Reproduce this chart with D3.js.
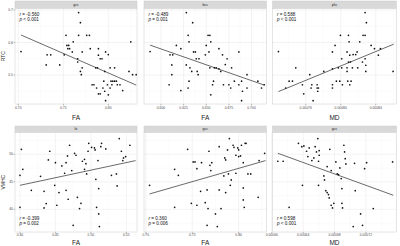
<!DOCTYPE html>
<html>
<head>
<meta charset="utf-8">
<script src="https://cdn.jsdelivr.net/npm/d3@7"></script>
<style>
  body { margin: 0; background: #fff; }
  svg { display: block; font-family: "Liberation Sans", Arial, sans-serif; }
</style>
</head>
<body>
<div id="chart"></div>
<script>
// ---- top row: RTC ----
var rtc_gcc_fa = [0.703,0.767,0.769,0.753,0.767,0.776,0.779,0.825,0.754,0.756,0.761,0.755,0.757,0.780,0.789,0.760,0.771,0.732,0.736,0.751,0.789,0.797,0.766,0.791,0.793,0.800,0.731,0.746,0.771,0.786,0.788,0.802,0.807,0.769,0.770,0.796,0.823,0.827,0.831,0.782,0.784,0.795,0.803,0.805,0.807,0.809,0.799,0.787,0.794,0.804,0.810,0.796,0.802,0.816,0.789,0.791,0.797,0.800,0.813,0.766];
var rtc_gcc_y  = [0.572,0.692,0.661,0.622,0.622,0.622,0.622,0.602,0.591,0.591,0.602,0.581,0.581,0.581,0.581,0.571,0.571,0.562,0.562,0.562,0.561,0.571,0.550,0.550,0.550,0.563,0.531,0.531,0.522,0.522,0.522,0.522,0.522,0.511,0.501,0.511,0.511,0.501,0.501,0.470,0.470,0.481,0.481,0.481,0.481,0.481,0.470,0.460,0.460,0.470,0.470,0.450,0.460,0.452,0.442,0.442,0.421,0.439,0.470,0.540];

var rtc_bcc_fa = [0.588,0.628,0.635,0.630,0.631,0.652,0.654,0.655,0.650,0.617,0.622,0.636,0.638,0.610,0.613,0.639,0.642,0.649,0.664,0.668,0.673,0.686,0.612,0.628,0.632,0.634,0.640,0.654,0.661,0.664,0.666,0.678,0.612,0.641,0.671,0.695,0.631,0.658,0.681,0.689,0.707,0.609,0.630,0.657,0.669,0.675,0.677,0.686,0.695,0.711,0.714,0.622,0.690,0.655,0.689,0.653,0.659];
var rtc_bcc_y  = [0.572,0.692,0.661,0.622,0.602,0.622,0.622,0.602,0.591,0.591,0.581,0.571,0.571,0.562,0.562,0.550,0.550,0.562,0.581,0.562,0.550,0.571,0.531,0.531,0.522,0.511,0.511,0.522,0.522,0.519,0.511,0.522,0.501,0.501,0.532,0.501,0.481,0.481,0.481,0.481,0.481,0.470,0.460,0.470,0.470,0.470,0.460,0.470,0.460,0.460,0.470,0.452,0.450,0.439,0.421,0.571,0.522];

var rtc_plic_md = [72.88,82.78,82.93,79.96,80.88,82.55,82.78,79.35,80.95,82.17,83.47,79.05,80.72,81.87,81.41,81.71,83.85,84.53,84.30,81.03,80.11,81.10,80.88,82.78,82.48,82.86,79.73,79.05,80.72,81.33,81.94,78.06,80.72,82.86,85.98,74.86,76.46,74.10,74.48,79.50,79.89,80.80,81.18,75.62,76.69,77.30,79.05,80.19,81.03,73.71,76.61,77.30,77.45,79.05,77.37,75.77,76.84,80.11].map(function(v){ return v * 1e-5; });
var rtc_plic_y  = [0.572,0.692,0.661,0.622,0.622,0.622,0.622,0.591,0.602,0.602,0.591,0.571,0.571,0.571,0.563,0.563,0.581,0.581,0.561,0.561,0.550,0.540,0.540,0.550,0.540,0.530,0.522,0.519,0.522,0.522,0.522,0.511,0.511,0.511,0.511,0.522,0.501,0.481,0.481,0.481,0.481,0.481,0.481,0.470,0.470,0.470,0.470,0.470,0.470,0.460,0.460,0.460,0.460,0.460,0.450,0.442,0.421,0.522];

// ---- bottom row: VMHC ----
var vmhc_fx_fa = [0.402,0.400,0.404,0.400,0.416,0.429,0.434,0.434,0.437,0.442,0.440,0.450,0.449,0.452,0.455,0.459,0.463,0.465,0.467,0.470,0.465,0.468,0.473,0.475,0.477,0.479,0.481,0.484,0.486,0.488,0.491,0.491,0.493,0.494,0.496,0.497,0.501,0.505,0.506,0.507,0.508,0.510,0.511,0.511,0.512,0.514,0.515,0.521,0.529,0.536,0.537,0.540,0.543,0.545,0.546,0.549,0.555];
var vmhc_fx_y  = [50.91,46.18,47.27,40.36,43.45,46.0,43.27,40.24,41.03,50.55,48.97,48.48,44.36,40.73,43.03,47.88,46.55,48.48,49.70,51.64,43.45,41.82,47.03,37.09,50.18,49.82,42.18,40.12,41.09,48.73,49.09,47.27,48.30,46.42,50.55,52.0,51.27,51.15,50.79,45.45,40.36,48.85,39.15,43.76,36.85,51.39,52.0,50.97,46.18,46.42,44.24,52.85,50.55,48.85,49.33,49.58,51.64];

var vmhc_gcc_fa = [0.704,0.731,0.735,0.731,0.745,0.749,0.751,0.753,0.755,0.755,0.759,0.760,0.764,0.766,0.767,0.766,0.768,0.769,0.770,0.771,0.775,0.777,0.779,0.779,0.781,0.784,0.785,0.786,0.786,0.788,0.789,0.790,0.791,0.792,0.794,0.795,0.797,0.797,0.799,0.800,0.802,0.803,0.805,0.805,0.805,0.806,0.807,0.808,0.810,0.813,0.821,0.822,0.828,0.800];
var vmhc_gcc_y  = [44.36,47.27,46.18,40.36,50.91,41.09,48.61,48.61,47.39,40.73,43.27,48.48,41.21,43.52,40.12,37.09,50.55,48.0,47.03,48.48,39.15,36.85,51.39,43.52,40.12,46.06,49.33,48.97,43.03,50.79,46.42,52.85,44.36,45.33,51.64,51.27,49.82,46.55,51.15,49.58,49.70,51.64,48.48,43.88,41.70,40.36,52.0,52.0,46.42,46.42,42.18,48.85,50.18,50.79];

var vmhc_scc_md = [60.77,61.45,62.21,63.40,63.83,64.09,63.91,64.43,64.77,64.60,65.11,65.36,65.53,65.70,65.87,65.96,66.04,66.04,65.96,66.64,66.72,66.89,67.06,67.06,67.23,67.32,67.40,67.57,67.57,67.74,67.91,68.17,68.34,68.51,68.68,68.85,68.94,69.02,69.19,69.28,69.36,68.94,69.45,70.38,70.55,70.64,71.32,71.57,71.83,72.09,72.94,75.40].map(function(v){ return v * 1e-5; });
var vmhc_scc_y  = [48.73,48.73,40.36,52.0,51.39,51.52,44.36,50.55,51.15,49.58,48.85,49.33,51.39,50.42,52.85,48.73,50.67,49.82,44.36,46.06,45.33,43.39,47.76,43.03,42.67,42.06,50.91,47.03,40.73,40.24,41.09,48.61,46.42,46.30,47.52,45.58,41.09,40.24,51.64,50.42,49.21,43.76,48.24,36.85,48.36,43.39,39.15,37.09,47.39,48.48,40.12,48.61];

// fitted lines [x0, y0, x1, y1]
var fit_rtc_gcc   = [0.703, 0.623, 0.831, 0.469];
var fit_rtc_bcc   = [0.588, 0.592, 0.714, 0.469];
var fit_rtc_plic  = [0.0007288, 0.449, 0.0008606, 0.595];
var fit_vmhc_fx   = [0.400, 44.36, 0.563, 48.85];
var fit_vmhc_gcc  = [0.704, 42.79, 0.829, 48.85];
var fit_vmhc_scc  = [0.0006077, 50.18, 0.0007549, 42.55];

// ticks
var rtc_ticks  = [0.5, 0.6, 0.7];
var vmhc_ticks = [40, 45, 50];
var ticks_rtc_gcc  = [0.70, 0.75, 0.80];
var ticks_rtc_bcc  = [0.600, 0.625, 0.650, 0.675, 0.700];
var ticks_rtc_plic = [0.00076, 0.00080, 0.00084];
var ticks_vmhc_fx  = [0.40, 0.45, 0.50, 0.55];
var ticks_vmhc_gcc = [0.70, 0.75, 0.80];
var ticks_vmhc_scc = [0.00060, 0.00064, 0.00068, 0.00072];

var W = 400, H = 246;
var svg = d3.select("#chart").append("svg").attr("width", W).attr("height", H);

var cols = [[15, 137], [144, 266.5], [272.5, 396.5]];
var rows = [
  {strip: [1, 8.5], y: [8.5, 104], dom: [0.4108, 0.7046], ticks: rtc_ticks, fmt: d3.format(".1f"), title: "RTC",
   statY: "top", xTitleY: 119.5, tickY: 109},
  {strip: [126, 132.5], y: [132.5, 232], dom: [35.87, 53.96], ticks: vmhc_ticks, fmt: d3.format("d"), title: "VMHC",
   statY: "bottom", xTitleY: 244.8, tickY: 236.2}
];

var panels = [
  {row: 0, col: 0, strip: "gcc",  xs: rtc_gcc_fa,  ys: rtc_gcc_y,  xdom: [0.6963, 0.8319],       xt: ticks_rtc_gcc,  xf: ".2f", fit: fit_rtc_gcc,  xTitle: "FA", stat: ["r = -0.560", "p < 0.001"]},
  {row: 0, col: 1, strip: "bcc",  xs: rtc_bcc_fa,  ys: rtc_bcc_y,  xdom: [0.5813, 0.7165],       xt: ticks_rtc_bcc,  xf: ".3f", fit: fit_rtc_bcc,  xTitle: "FA", stat: ["r = -0.489", "p = 0.001"]},
  {row: 0, col: 2, strip: "plic", xs: rtc_plic_md, ys: rtc_plic_y, xdom: [0.000722, 0.0008637], xt: ticks_rtc_plic, xf: ".5f", fit: fit_rtc_plic, xTitle: "MD", stat: ["r = 0.588", "p < 0.001"]},
  {row: 1, col: 0, strip: "fx",   xs: vmhc_fx_fa,  ys: vmhc_fx_y,  xdom: [0.393, 0.565],         xt: ticks_vmhc_fx,  xf: ".2f", fit: fit_vmhc_fx,  xTitle: "FA", stat: ["r = -0.399", "p = 0.002"]},
  {row: 1, col: 1, strip: "gcc",  xs: vmhc_gcc_fa, ys: vmhc_gcc_y, xdom: [0.698, 0.830],         xt: ticks_vmhc_gcc, xf: ".2f", fit: fit_vmhc_gcc, xTitle: "FA", stat: ["r = 0.360", "p = 0.006"]},
  {row: 1, col: 2, strip: "gcc",  xs: vmhc_scc_md, ys: vmhc_scc_y, xdom: [0.0006009, 0.000759], xt: ticks_vmhc_scc, xf: ".5f", fit: fit_vmhc_scc, xTitle: "MD", stat: ["r = 0.598", "p < 0.001"]}
];

function minors(t) {
  var out = [];
  var step = t[1] - t[0];
  out.push(t[0] - step / 2);
  t.forEach(function(v) { out.push(v + step / 2); });
  return out;
}

panels.forEach(function(p) {
  var r = rows[p.row], c = cols[p.col];
  var x = d3.scaleLinear().domain(p.xdom).range(c);
  var y = d3.scaleLinear().domain(r.dom).range([r.y[1], r.y[0]]);
  var g = svg.append("g");

  // strip
  g.append("rect").attr("x", c[0]).attr("y", r.strip[0]).attr("width", c[1] - c[0]).attr("height", r.strip[1] - r.strip[0])
    .attr("fill", "#d9d9d9").attr("stroke", "#cccccc").attr("stroke-width", 0.5);
  g.append("text").attr("x", (c[0] + c[1]) / 2).attr("y", (r.strip[0] + r.strip[1]) / 2 + 1.2)
    .attr("text-anchor", "middle").attr("font-size", 3.6).attr("fill", "#1a1a1a").text(p.strip);

  // panel background
  g.append("rect").attr("x", c[0]).attr("y", r.y[0]).attr("width", c[1] - c[0]).attr("height", r.y[1] - r.y[0]).attr("fill", "#fff");

  // grid
  var xmin = minors(p.xt).filter(function(v) { return v > p.xdom[0] && v < p.xdom[1]; });
  var ymin = minors(r.ticks).filter(function(v) { return v > r.dom[0] && v < r.dom[1]; });
  g.selectAll(".gxm").data(xmin).enter().append("line")
    .attr("x1", x).attr("x2", x).attr("y1", r.y[0]).attr("y2", r.y[1]).attr("stroke", "#f2f2f2").attr("stroke-width", 0.3);
  g.selectAll(".gym").data(ymin).enter().append("line")
    .attr("y1", y).attr("y2", y).attr("x1", c[0]).attr("x2", c[1]).attr("stroke", "#f2f2f2").attr("stroke-width", 0.3);
  g.selectAll(".gx").data(p.xt).enter().append("line")
    .attr("x1", x).attr("x2", x).attr("y1", r.y[0]).attr("y2", r.y[1]).attr("stroke", "#e6e6e6").attr("stroke-width", 0.5);
  g.selectAll(".gy").data(r.ticks).enter().append("line")
    .attr("y1", y).attr("y2", y).attr("x1", c[0]).attr("x2", c[1]).attr("stroke", "#e6e6e6").attr("stroke-width", 0.5);

  // border
  g.append("rect").attr("x", c[0]).attr("y", r.y[0]).attr("width", c[1] - c[0]).attr("height", r.y[1] - r.y[0])
    .attr("fill", "none").attr("stroke", "#cccccc").attr("stroke-width", 0.5);

  // x axis ticks + labels
  var fx = d3.format(p.xf);
  g.selectAll(".xt").data(p.xt).enter().append("line")
    .attr("x1", x).attr("x2", x).attr("y1", r.y[1]).attr("y2", r.y[1] + 1.5).attr("stroke", "#555").attr("stroke-width", 0.4);
  g.selectAll(".xl").data(p.xt).enter().append("text")
    .attr("x", x).attr("y", r.tickY).attr("text-anchor", "middle").attr("font-size", 3.4).attr("fill", "#4d4d4d")
    .text(function(d) { return fx(d); });
  g.append("text").attr("x", (c[0] + c[1]) / 2).attr("y", r.xTitleY).attr("text-anchor", "middle")
    .attr("font-size", 6.5).attr("fill", "#1a1a1a").text(p.xTitle);

  // y axis only on first column
  if (p.col === 0) {
    g.selectAll(".yt").data(r.ticks).enter().append("line")
      .attr("y1", y).attr("y2", y).attr("x1", c[0] - 1.5).attr("x2", c[0]).attr("stroke", "#555").attr("stroke-width", 0.4);
    g.selectAll(".yl").data(r.ticks).enter().append("text")
      .attr("x", c[0] - 2).attr("y", function(d) { return y(d) + 1.2; }).attr("text-anchor", "end")
      .attr("font-size", 3.4).attr("fill", "#4d4d4d").text(function(d) { return r.fmt(d); });
    var cy = (r.y[0] + r.y[1]) / 2;
    g.append("text").attr("transform", "translate(5," + cy + ") rotate(-90)").attr("text-anchor", "middle")
      .attr("font-size", 5).attr("fill", "#1a1a1a").text(r.title);
  }

  // fit line
  g.append("line").attr("x1", x(p.fit[0])).attr("y1", y(p.fit[1])).attr("x2", x(p.fit[2])).attr("y2", y(p.fit[3]))
    .attr("stroke", "#444").attr("stroke-width", 0.8);

  // points
  g.selectAll(".pt").data(p.xs).enter().append("circle")
    .attr("cx", function(d) { return x(d); })
    .attr("cy", function(d, i) { return y(p.ys[i]); })
    .attr("r", 0.85).attr("fill", "#111");

  // stats
  var sy = r.statY === "top" ? [r.y[0] + 7, r.y[0] + 12.5] : [r.y[1] - 12.5, r.y[1] - 7];
  p.stat.forEach(function(s, i) {
    var t = g.append("text").attr("x", c[0] + 4.5).attr("y", sy[i]).attr("font-size", 4.6).attr("fill", "#111");
    var parts = s.split(" ");
    t.append("tspan").attr("font-style", "italic").text(parts[0]);
    t.append("tspan").text(" " + parts.slice(1).join(" "));
  });
});
</script>
</body>
</html>
